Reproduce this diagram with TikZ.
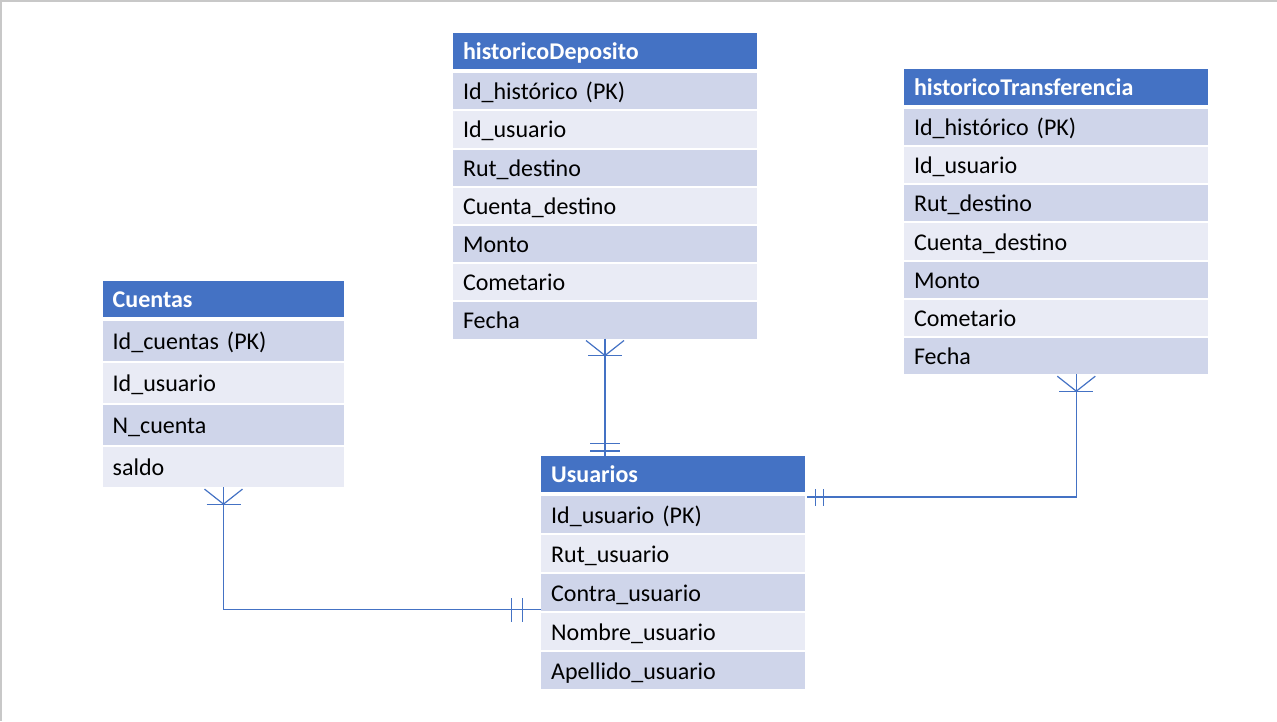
\documentclass[tikz,border=0pt]{standalone}
\usepackage{fontspec}
\setmainfont{Carlito}
\usetikzlibrary{positioning}

\definecolor{hdblue}{HTML}{4472C4}
\definecolor{rowdark}{HTML}{CFD5EA}
\definecolor{rowlight}{HTML}{E9EBF5}
\definecolor{pageframe}{HTML}{C8C8C8}

\begin{document}
\begin{tikzpicture}[font=\fontsize{24}{28}\selectfont,
  cell/.style 2 args={rectangle, inner xsep=10pt, inner ysep=0pt, outer sep=0pt,
    text width=#1, minimum height=#2, text height=17pt, text depth=0pt,
    align=left, anchor=north},
  head/.style={fill=hdblue, text=white, font=\fontsize{24}{28}\selectfont\bfseries},
  dark/.style={fill=rowdark},
  light/.style={fill=rowlight},
  link/.style={draw=hdblue, line width=1.2pt}]
  \useasboundingbox (0,0) rectangle (1277pt,-721pt);
  \draw[pageframe, line width=1.5pt] (0,-0.75pt) -- (1277pt,-0.75pt);
  \draw[pageframe, line width=1.5pt] (0.75pt,0) -- (0.75pt,-721pt);

  % historicoDeposito
  \node[cell={284pt}{36pt}, head]    (dHead) at (605pt,-33.3pt)  {historicoDeposito};
  \node[cell={284pt}{36.2pt}, dark]  (dId)     [below=3.8pt of dHead] {Id\_histórico (PK)};
  \node[cell={284pt}{36.2pt}, light] (dUser)   [below=2pt of dId]     {Id\_usuario};
  \node[cell={284pt}{36.2pt}, dark]  (dRut)    [below=2pt of dUser]   {Rut\_destino};
  \node[cell={284pt}{36.2pt}, light] (dCuenta) [below=2pt of dRut]    {Cuenta\_destino};
  \node[cell={284pt}{36.2pt}, dark]  (dMonto)  [below=2pt of dCuenta] {Monto};
  \node[cell={284pt}{36.2pt}, light] (dComent) [below=2pt of dMonto]  {Cometario};
  \node[cell={284pt}{36.2pt}, dark]  (dFecha)  [below=2pt of dComent] {Fecha};

  % historicoTransferencia
  \node[cell={284pt}{36pt}, head]    (tHead) at (1056pt,-69pt)   {historicoTransferencia};
  \node[cell={284pt}{36.2pt}, dark]  (tId)     [below=3.8pt of tHead] {Id\_histórico (PK)};
  \node[cell={284pt}{36.2pt}, light] (tUser)   [below=2pt of tId]     {Id\_usuario};
  \node[cell={284pt}{36.2pt}, dark]  (tRut)    [below=2pt of tUser]   {Rut\_destino};
  \node[cell={284pt}{36.2pt}, light] (tCuenta) [below=2pt of tRut]    {Cuenta\_destino};
  \node[cell={284pt}{36.2pt}, dark]  (tMonto)  [below=2pt of tCuenta] {Monto};
  \node[cell={284pt}{36.2pt}, light] (tComent) [below=2pt of tMonto]  {Cometario};
  \node[cell={284pt}{36.2pt}, dark]  (tFecha)  [below=2pt of tComent] {Fecha};

  % Cuentas
  \node[cell={221.6pt}{35.7pt}, head]    (cHead) at (223.5pt,-281pt) {Cuentas};
  \node[cell={221.6pt}{40.3pt}, dark]  (cId)    [below=3.8pt of cHead] {Id\_cuentas (PK)};
  \node[cell={221.6pt}{40.3pt}, light] (cUser)  [below=1.8pt of cId]   {Id\_usuario};
  \node[cell={221.6pt}{40.3pt}, dark]  (cNum)   [below=1.8pt of cUser] {N\_cuenta};
  \node[cell={221.6pt}{40.3pt}, light] (cSaldo) [below=1.8pt of cNum]  {saldo};

  % Usuarios
  \node[cell={243.7pt}{36.3pt}, head]    (uHead) at (673pt,-456pt)   {Usuarios};
  \node[cell={243.7pt}{37.2pt}, dark]  (uId)     [below=3.8pt of uHead]  {Id\_usuario (PK)};
  \node[cell={243.7pt}{37.2pt}, light] (uRut)    [below=1.8pt of uId]    {Rut\_usuario};
  \node[cell={243.7pt}{37.2pt}, dark]  (uContra) [below=1.8pt of uRut]   {Contra\_usuario};
  \node[cell={243.7pt}{37.2pt}, light] (uNombre) [below=1.8pt of uContra] {Nombre\_usuario};
  \node[cell={243.7pt}{37.2pt}, dark]  (uApell)  [below=1.8pt of uNombre] {Apellido\_usuario};

  % historicoDeposito -- Usuarios
  \coordinate (dEnd) at (dFecha.south |- uHead.north);
  \draw[link] (dFecha.south) -- (dEnd);
  \draw[link] ([shift={(-19pt,-2pt)}]dFecha.south) -- ([yshift=-17pt]dFecha.south) -- ([shift={(19pt,-2pt)}]dFecha.south);
  \draw[link] ([shift={(-17pt,-17pt)}]dFecha.south) -- ([shift={(17pt,-17pt)}]dFecha.south);
  \draw[link] ([shift={(-15pt,5pt)}]dEnd) -- ([shift={(15pt,5pt)}]dEnd);
  \draw[link] ([shift={(-15pt,12.7pt)}]dEnd) -- ([shift={(15pt,12.7pt)}]dEnd);

  % historicoTransferencia -- Usuarios
  \coordinate (tTop) at ([xshift=20.3pt]tFecha.south);
  \coordinate (tEnd) at ([shift={(1.7pt,-4.7pt)}]uHead.south east);
  \draw[link] (tTop) |- (tEnd);
  \draw[link] ([shift={(-19pt,-2pt)}]tTop) -- ([yshift=-17pt]tTop) -- ([shift={(19pt,-2pt)}]tTop);
  \draw[link] ([shift={(-17pt,-17pt)}]tTop) -- ([shift={(17pt,-17pt)}]tTop);
  \draw[link] ([shift={(9pt,-8.5pt)}]tEnd) -- ([shift={(9pt,8.5pt)}]tEnd);
  \draw[link] ([shift={(16.6pt,-8.5pt)}]tEnd) -- ([shift={(16.6pt,8.5pt)}]tEnd);

  % Cuentas -- Usuarios
  \coordinate (cEnd) at ([yshift=1.7pt]uContra.south west);
  \draw[link] (cSaldo.south) |- (cEnd);
  \draw[link] ([shift={(-19pt,-2pt)}]cSaldo.south) -- ([yshift=-17pt]cSaldo.south) -- ([shift={(19pt,-2pt)}]cSaldo.south);
  \draw[link] ([shift={(-17pt,-17pt)}]cSaldo.south) -- ([shift={(17pt,-17pt)}]cSaldo.south);
  \draw[link] ([shift={(-18.7pt,-12pt)}]cEnd) -- ([shift={(-18.7pt,12pt)}]cEnd);
  \draw[link] ([shift={(-29.3pt,-12pt)}]cEnd) -- ([shift={(-29.3pt,12pt)}]cEnd);
\end{tikzpicture}
\end{document}
